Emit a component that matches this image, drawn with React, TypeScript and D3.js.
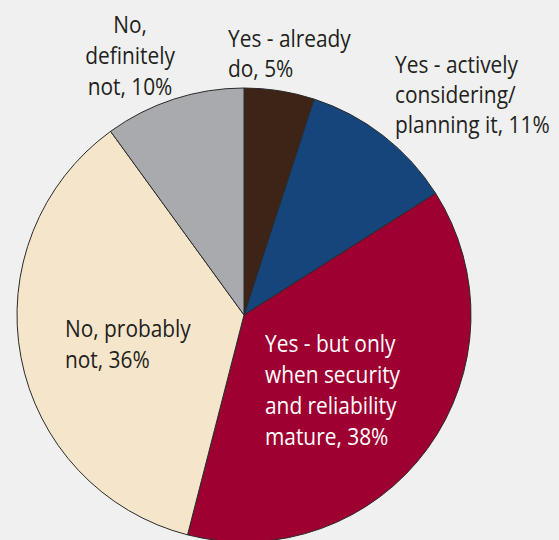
import React from "react";
import * as d3 from "d3";

const categories = [
  "Yes - already do",
  "Yes - actively considering/planning it",
  "Yes - but only when security and reliability mature",
  "No, probably not",
  "No, definitely not",
];
const values = [5, 11, 38, 36, 10];
const labelLines = [
  ["Yes - already", "do, 5%"],
  ["Yes - actively", "considering/", "planning it, 11%"],
  ["Yes - but only", "when security", "and reliability", "mature, 38%"],
  ["No, probably", "not, 36%"],
  ["No,", "definitely", "not, 10%"],
];
const colors = ["#3e2417", "#16457b", "#9e0032", "#f5e5cb", "#a9aaae"];

// label layout (annotation positions)
const labelLayout = [
  { x: 228, y: 47, lh: 30, anchor: "start", color: "#231f20" },
  { x: 395, y: 73, lh: 30, anchor: "start", color: "#231f20" },
  { x: 265, y: 352, lh: 31, anchor: "start", color: "#ffffff" },
  { x: 65, y: 337, lh: 31, anchor: "start", color: "#231f20" },
  { x: 130, y: 33, lh: 31, anchor: "middle", color: "#231f20" },
];

const W = 559;
const H = 540;
const CX = 244;
const CY = 315;
const R = 227;
const SX = 0.87;

export default function App() {
  const pie = d3
    .pie<number>()
    .sort(null)
    .value((d) => d)
    .startAngle(0)
    .endAngle(2 * Math.PI);
  const arcs = pie(values);
  const arc = d3.arc<d3.PieArcDatum<number>>().innerRadius(0).outerRadius(R);

  return (
    <svg
      width={W}
      height={H}
      style={{ position: "fixed", left: 0, top: 0, display: "block" }}
    >
      <rect x={0} y={0} width={W} height={H} fill="#f0f0f0" />
      <g transform={`translate(${CX},${CY})`}>
        {arcs.map((a, i) => (
          <path
            key={categories[i]}
            d={arc(a) || ""}
            fill={colors[i]}
            stroke="#2a2a2a"
            strokeWidth={1}
            strokeLinejoin="round"
          />
        ))}
      </g>
      {labelLines.map((lines, i) => {
        const L = labelLayout[i];
        return (
          <g key={categories[i]}>
            {lines.map((t, j) => (
              <text
                key={j}
                transform={`translate(${L.x},${L.y + j * L.lh}) scale(${SX},1)`}
                textAnchor={L.anchor as any}
                fill={L.color}
                fontFamily="'Open Sans', 'Noto Sans', sans-serif"
                fontSize={24}
              >
                {t}
              </text>
            ))}
          </g>
        );
      })}
    </svg>
  );
}
